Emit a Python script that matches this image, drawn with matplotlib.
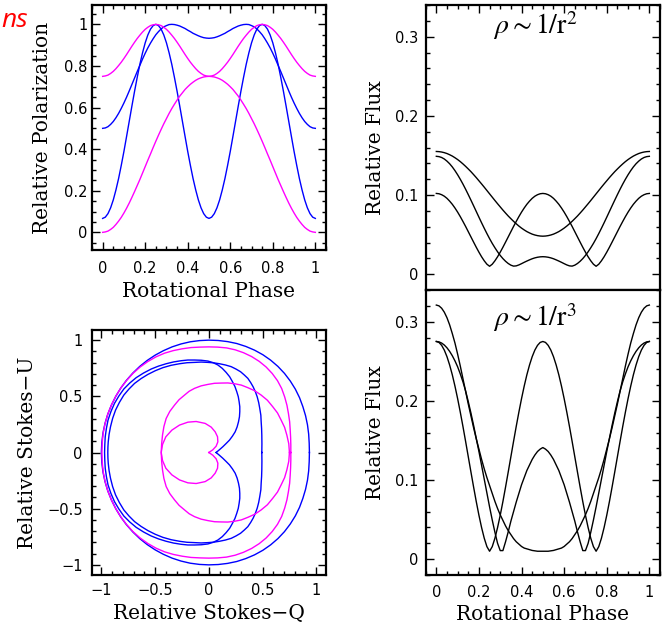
import matplotlib
matplotlib.use("Agg")
import matplotlib.pyplot as plt
from matplotlib.ticker import MultipleLocator, FuncFormatter
import numpy as np

plt.rcParams["mathtext.fontset"] = "stix"

# rotational phase 0 .. 0.5, read every 0.0125; all phase curves are symmetric about 0.5
phase_half = [0.0, 0.0125, 0.025, 0.0375, 0.05, 0.0625, 0.075, 0.0875, 0.1, 0.1125,
              0.125, 0.1375, 0.15, 0.1625, 0.175, 0.1875, 0.2, 0.2125, 0.225, 0.2375,
              0.25, 0.2625, 0.275, 0.2875, 0.3, 0.3125, 0.325, 0.3375, 0.35, 0.3625,
              0.375, 0.3875, 0.4, 0.4125, 0.425, 0.4375, 0.45, 0.4625, 0.475, 0.4875, 0.5]

# relative polarization
pol_mag1 = [0.750, 0.752, 0.756, 0.764, 0.774, 0.787, 0.802, 0.818, 0.836, 0.855,
            0.875, 0.895, 0.914, 0.932, 0.948, 0.963, 0.976, 0.986, 0.994, 0.998,
            1.000, 0.998, 0.994, 0.986, 0.976, 0.963, 0.948, 0.932, 0.914, 0.895,
            0.875, 0.855, 0.836, 0.818, 0.802, 0.787, 0.774, 0.764, 0.756, 0.752, 0.750]
pol_mag2 = [0.000, 0.002, 0.006, 0.014, 0.024, 0.038, 0.054, 0.072, 0.093, 0.116,
            0.141, 0.168, 0.196, 0.225, 0.254, 0.285, 0.316, 0.347, 0.377, 0.408,
            0.438, 0.467, 0.495, 0.522, 0.547, 0.572, 0.595, 0.616, 0.636, 0.655,
            0.671, 0.687, 0.700, 0.712, 0.722, 0.731, 0.738, 0.743, 0.747, 0.749, 0.750]
pol_blue1 = [0.500, 0.502, 0.508, 0.519, 0.533, 0.551, 0.572, 0.596, 0.622, 0.650,
             0.680, 0.711, 0.742, 0.773, 0.803, 0.833, 0.861, 0.887, 0.910, 0.931,
             0.950, 0.965, 0.978, 0.988, 0.994, 0.999, 1.000, 0.999, 0.996, 0.992,
             0.986, 0.980, 0.972, 0.965, 0.957, 0.951, 0.945, 0.940, 0.936, 0.934, 0.933]
pol_blue2 = [0.067, 0.073, 0.090, 0.118, 0.156, 0.204, 0.259, 0.322, 0.389, 0.461,
             0.534, 0.607, 0.678, 0.745, 0.808, 0.863, 0.911, 0.949, 0.977, 0.994,
             1.000, 0.994, 0.977, 0.949, 0.911, 0.863, 0.808, 0.745, 0.678, 0.607,
             0.534, 0.461, 0.389, 0.322, 0.259, 0.204, 0.156, 0.118, 0.090, 0.073, 0.067]

# relative flux, rho ~ 1/r^2
flux2_a = [0.1550, 0.1548, 0.1543, 0.1535, 0.1524, 0.1509, 0.1492, 0.1471, 0.1448, 0.1422,
           0.1393, 0.1362, 0.1329, 0.1295, 0.1258, 0.1220, 0.1180, 0.1140, 0.1099, 0.1057,
           0.1015, 0.0973, 0.0931, 0.0890, 0.0850, 0.0810, 0.0772, 0.0735, 0.0701, 0.0668,
           0.0637, 0.0608, 0.0582, 0.0559, 0.0538, 0.0521, 0.0506, 0.0495, 0.0487, 0.0482, 0.0480]
flux2_b = [0.1489, 0.1485, 0.1474, 0.1455, 0.1428, 0.1395, 0.1355, 0.1308, 0.1256, 0.1199,
           0.1138, 0.1073, 0.1005, 0.0935, 0.0864, 0.0792, 0.0720, 0.0649, 0.0580, 0.0513,
           0.0449, 0.0389, 0.0334, 0.0283, 0.0237, 0.0197, 0.0163, 0.0135, 0.0114, 0.0102,
           0.0105, 0.0117, 0.0133, 0.0150, 0.0166, 0.0181, 0.0195, 0.0206, 0.0214, 0.0219, 0.0221]
flux2_c = [0.1020, 0.1016, 0.1004, 0.0985, 0.0958, 0.0923, 0.0883, 0.0836, 0.0784, 0.0727,
           0.0666, 0.0603, 0.0537, 0.0471, 0.0405, 0.0340, 0.0278, 0.0220, 0.0169, 0.0126,
           0.0100, 0.0126, 0.0169, 0.0220, 0.0278, 0.0340, 0.0405, 0.0471, 0.0537, 0.0603,
           0.0666, 0.0727, 0.0784, 0.0836, 0.0883, 0.0923, 0.0958, 0.0985, 0.1004, 0.1016, 0.1020]

# relative flux, rho ~ 1/r^3
flux3_a = [0.321, 0.320, 0.317, 0.312, 0.305, 0.296, 0.285, 0.273, 0.259, 0.244,
           0.228, 0.212, 0.196, 0.181, 0.166, 0.152, 0.139, 0.126, 0.114, 0.103,
           0.093, 0.083, 0.073, 0.064, 0.056, 0.049, 0.042, 0.036, 0.031, 0.026,
           0.022, 0.019, 0.016, 0.014, 0.013, 0.012, 0.011, 0.0105, 0.010, 0.010, 0.010]
flux3_b = [0.2750, 0.2738, 0.2701, 0.2641, 0.2558, 0.2453, 0.2329, 0.2186, 0.2028, 0.1857,
           0.1676, 0.1487, 0.1294, 0.1101, 0.0911, 0.0727, 0.0555, 0.0399, 0.0264, 0.0158,
           0.0100, 0.0158, 0.0264, 0.0399, 0.0555, 0.0727, 0.0911, 0.1101, 0.1294, 0.1487,
           0.1676, 0.1857, 0.2028, 0.2186, 0.2329, 0.2453, 0.2558, 0.2641, 0.2701, 0.2738, 0.2750]
flux3_c = [0.275, 0.2745, 0.273, 0.2705, 0.267, 0.2625, 0.257, 0.2505, 0.243, 0.234,
           0.224, 0.2125, 0.199, 0.1845, 0.169, 0.1525, 0.136, 0.1185, 0.101, 0.0835,
           0.066, 0.0495, 0.034, 0.020, 0.0108, 0.0108, 0.022, 0.0345, 0.048, 0.060,
           0.072, 0.083, 0.094, 0.103, 0.112, 0.119, 0.126, 0.1315, 0.136, 0.139, 0.141]

# Stokes Q-U loops, upper halves (U >= 0); the picture is symmetric about U = 0
mag_big_q = [0.763, 0.763, 0.761, 0.757, 0.752, 0.741, 0.727, 0.706, 0.678, 0.639,
             0.590, 0.533, 0.469, 0.398, 0.323, 0.245, 0.164, 0.082, 0.0, -0.082,
             -0.165, -0.247, -0.330, -0.412, -0.492, -0.567, -0.639, -0.705, -0.765, -0.819,
             -0.866, -0.906, -0.940, -0.965, -0.983, -0.992, -0.995]
mag_big_u = [0.0, 0.067, 0.134, 0.203, 0.274, 0.346, 0.420, 0.494, 0.569, 0.639,
             0.703, 0.761, 0.811, 0.854, 0.888, 0.914, 0.931, 0.938, 0.940, 0.938,
             0.934, 0.923, 0.907, 0.884, 0.851, 0.810, 0.761, 0.705, 0.642, 0.574,
             0.500, 0.423, 0.342, 0.259, 0.173, 0.087, 0.0]
mag_ring_q = [0.750, 0.744, 0.726, 0.705, 0.673, 0.639, 0.595, 0.545, 0.487, 0.428,
              0.363, 0.302, 0.239, 0.177, 0.115, 0.053, -0.009, -0.072, -0.133, -0.183,
              -0.226, -0.277, -0.319, -0.363, -0.397, -0.418, -0.431, -0.439, -0.443]
mag_ring_u = [0.0, 0.078, 0.155, 0.224, 0.288, 0.352, 0.407, 0.465, 0.511, 0.549,
              0.577, 0.600, 0.612, 0.619, 0.618, 0.616, 0.606, 0.593, 0.571, 0.545,
              0.511, 0.470, 0.422, 0.366, 0.303, 0.231, 0.155, 0.078, 0.0]
mag_heart_q = [0.000, 0.037, 0.068, 0.084, 0.081, 0.059, 0.022, -0.034, -0.118, -0.195,
               -0.273, -0.344, -0.400, -0.431, -0.443]
mag_heart_u = [0.000, 0.024, 0.056, 0.095, 0.140, 0.184, 0.226, 0.259, 0.276, 0.270,
               0.244, 0.199, 0.140, 0.071, 0.0]
blue_outer_q = [0.936, 0.934, 0.929, 0.918, 0.900, 0.875, 0.844, 0.805, 0.758, 0.704,
                0.643, 0.575, 0.503, 0.425, 0.344, 0.260, 0.174, 0.087, 0.0, -0.087,
                -0.174, -0.259, -0.342, -0.423, -0.500, -0.574, -0.643, -0.707, -0.766, -0.819,
                -0.866, -0.906, -0.940, -0.966, -0.985, -0.996, -1.000]
blue_outer_u = [0.0, 0.082, 0.164, 0.246, 0.328, 0.408, 0.488, 0.564, 0.636, 0.704,
                0.766, 0.822, 0.870, 0.911, 0.944, 0.970, 0.987, 0.997, 1.000, 0.996,
                0.985, 0.966, 0.940, 0.906, 0.866, 0.819, 0.766, 0.707, 0.643, 0.574,
                0.500, 0.423, 0.342, 0.259, 0.174, 0.087, 0.0]
blue_d_q = [0.493, 0.494, 0.493, 0.491, 0.487, 0.484, 0.474, 0.464, 0.450, 0.433,
            0.412, 0.389, 0.363, 0.330, 0.295, 0.252, 0.208, 0.154, 0.099, 0.045,
            -0.009, -0.071, -0.133, -0.203, -0.273, -0.351, -0.428, -0.498, -0.567, -0.630,
            -0.691, -0.743, -0.791, -0.832, -0.868, -0.895, -0.915, -0.928, -0.936, -0.939,
            -0.940]
blue_d_u = [0.0, 0.078, 0.155, 0.214, 0.273, 0.332, 0.392, 0.444, 0.496, 0.541,
            0.585, 0.623, 0.660, 0.690, 0.719, 0.743, 0.764, 0.779, 0.790, 0.798,
            0.802, 0.805, 0.802, 0.799, 0.790, 0.776, 0.755, 0.728, 0.695, 0.658,
            0.615, 0.565, 0.511, 0.446, 0.377, 0.304, 0.229, 0.162, 0.095, 0.048, 0.0]
blue_card_q = [0.068, 0.099, 0.130, 0.161, 0.192, 0.220, 0.245, 0.263, 0.276, 0.285,
               0.288, 0.288, 0.282, 0.274, 0.260, 0.243, 0.220, 0.194, 0.161, 0.125,
               0.084, 0.039, -0.009, -0.071, -0.133, -0.195, -0.257, -0.328, -0.397, -0.468,
               -0.536, -0.608, -0.676, -0.736, -0.791, -0.837, -0.878, -0.911, -0.938, -0.953,
               -0.964, -0.968, -0.970]
blue_card_u = [0.0, 0.025, 0.051, 0.080, 0.110, 0.146, 0.184, 0.227, 0.273, 0.318,
               0.363, 0.408, 0.452, 0.497, 0.541, 0.587, 0.630, 0.674, 0.713, 0.749,
               0.779, 0.800, 0.814, 0.821, 0.823, 0.823, 0.817, 0.806, 0.790, 0.769,
               0.743, 0.707, 0.666, 0.618, 0.565, 0.503, 0.437, 0.364, 0.288, 0.215,
               0.140, 0.070, 0.0]

MAG = "#ff00ff"
BLUE = "#0000ff"
LW = 1.0


def tick_fmt(v, pos):
    return ("%g" % v).replace("-", "\u2212")


def style(ax, xmaj, xmin, ymaj, ymin, xpad=7, ypad=3):
    for s in ax.spines.values():
        s.set_linewidth(1.6)
    ax.xaxis.set_major_locator(MultipleLocator(xmaj))
    ax.xaxis.set_minor_locator(MultipleLocator(xmin))
    ax.yaxis.set_major_locator(MultipleLocator(ymaj))
    ax.yaxis.set_minor_locator(MultipleLocator(ymin))
    ax.xaxis.set_major_formatter(FuncFormatter(tick_fmt))
    ax.yaxis.set_major_formatter(FuncFormatter(tick_fmt))
    ax.tick_params(which="both", direction="in", top=True, right=True, width=1.0)
    ax.tick_params(which="major", length=6)
    ax.tick_params(which="minor", length=3)
    ax.tick_params(axis="x", pad=xpad, labelsize=10.5)
    ax.tick_params(axis="y", pad=ypad, labelsize=10.5)


def full(v):
    # mirror the 0..0.5 half onto 0.5..1
    v = np.array(v)
    return np.concatenate([v, v[-2::-1]])


def loop(q, u):
    q = np.array(q)
    u = np.array(u)
    return np.concatenate([q, q[::-1]]), np.concatenate([u, -u[::-1]])


ph = np.array(phase_half)
phase = np.concatenate([ph, 1.0 - ph[-2::-1]])

label_font = {"family": "DejaVu Serif", "size": 14.5}

fig = plt.figure(figsize=(6.62, 6.26), dpi=100)

# top left: polarization vs phase
ax1 = fig.add_axes([0.139, 0.6006, 0.3534, 0.3914])
ax1.plot(phase, full(pol_blue1), color=BLUE, lw=LW)
ax1.plot(phase, full(pol_blue2), color=BLUE, lw=LW)
ax1.plot(phase, full(pol_mag1), color=MAG, lw=LW)
ax1.plot(phase, full(pol_mag2), color=MAG, lw=LW)
ax1.set_xlim(-0.05, 1.05)
ax1.set_ylim(-0.085, 1.093)
style(ax1, 0.2, 0.05, 0.2, 0.05, xpad=8, ypad=3)
ax1.set_xlabel("Rotational Phase", fontdict=label_font, labelpad=4)
ax1.set_ylabel("Relative Polarization", fontdict=label_font, labelpad=9)

# bottom left: Stokes Q-U
ax2 = fig.add_axes([0.1385, 0.0815, 0.3539, 0.3913])
for q, u, c in [(blue_outer_q, blue_outer_u, BLUE), (blue_d_q, blue_d_u, BLUE),
                (blue_card_q, blue_card_u, BLUE), (mag_big_q, mag_big_u, MAG),
                (mag_ring_q, mag_ring_u, MAG), (mag_heart_q, mag_heart_u, MAG)]:
    qq, uu = loop(q, u)
    ax2.plot(qq, uu, color=c, lw=LW)
ax2.set_xlim(-1.09, 1.09)
ax2.set_ylim(-1.09, 1.09)
style(ax2, 0.5, 0.1, 0.5, 0.1, xpad=6, ypad=6.5)
ax2.set_xlabel("Relative Stokes\u2212Q", fontdict=label_font, labelpad=4)
ax2.set_ylabel("Relative Stokes\u2212U", fontdict=label_font, labelpad=7)

# right: flux panels
ax3 = fig.add_axes([0.643, 0.5367, 0.354, 0.4553])
ax4 = fig.add_axes([0.643, 0.0815, 0.354, 0.4552])
for f in (flux2_a, flux2_b, flux2_c):
    ax3.plot(phase, full(f), color="black", lw=LW)
for f in (flux3_a, flux3_b, flux3_c):
    ax4.plot(phase, full(f), color="black", lw=LW)
for ax in (ax3, ax4):
    ax.set_xlim(-0.05, 1.05)
    ax.set_ylim(-0.02, 0.34)
    style(ax, 0.2, 0.05, 0.1, 0.02, xpad=7, ypad=5)
    ax.set_ylabel("Relative Flux", fontdict=label_font, labelpad=7)
ax3.tick_params(which="both", bottom=False, labelbottom=False)
ax4.tick_params(which="both", top=False)
ax4.set_xlabel("Rotational Phase", fontdict=label_font, labelpad=4)
ax3.text(0.464, 0.304, r"$\rho\sim1/\mathrm{r}^{2}$", fontsize=20, ha="center", va="baseline")
ax4.text(0.464, 0.295, r"$\rho\sim1/\mathrm{r}^{3}$", fontsize=20, ha="center", va="baseline")

# red word clipped at the top left corner of the slide
fig.text(1 / 662, 1 - 27 / 626, "ns", color="red", fontsize=19, style="italic",
         family=["Open Sans", "DejaVu Sans"], ha="left", va="baseline")

fig.savefig("out.png", dpi=100)
